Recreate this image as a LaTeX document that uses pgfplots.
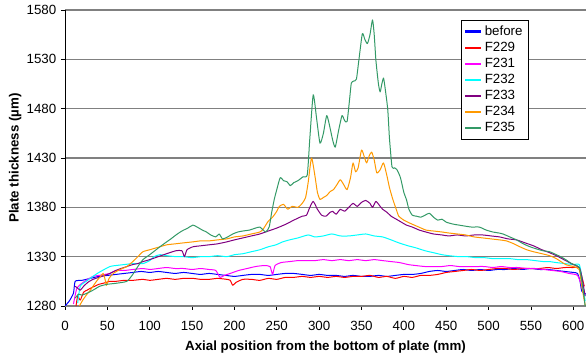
\documentclass[border=0pt]{standalone}
\usepackage{fontspec}
\setmainfont{Liberation Sans}
\usepackage{pgfplots}
\pgfplotsset{compat=1.18}
\definecolor{cBefore}{HTML}{0000FF}
\definecolor{cF229}{HTML}{FF0000}
\definecolor{cF231}{HTML}{FF00FF}
\definecolor{cF232}{HTML}{00FFFF}
\definecolor{cF233}{HTML}{800080}
\definecolor{cF234}{HTML}{FF9900}
\definecolor{cF235}{HTML}{339966}
\definecolor{gridgray}{HTML}{808080}
\begin{document}
\begin{tikzpicture}
\path[use as bounding box] (-48.75pt,-37.5pt) rectangle (390.75pt,229.5pt);
\begin{axis}[
  scale only axis, width=390.75pt, height=222pt,
  xmin=0, xmax=615, ymin=1280, ymax=1580,
  xtick={0,50,...,600}, ytick={1280,1330,...,1580},
  axis x line*=bottom, axis y line*=left,
  axis line style={-},
  x axis line style={gridgray, line width=1.1pt},
  y axis line style={black, line width=0.6pt},
  tick align=outside, major tick length=3pt,
  tick style={black, line width=0.6pt},
  ymajorgrids, grid style={gridgray, line width=1.1pt},
  /pgf/number format/assume math mode=true,
  /pgf/number format/1000 sep={},
  ticklabel style={font=\fontsize{10}{12}\selectfont},
  xticklabel style={yshift=-5pt},
  xlabel={Axial position from the bottom of plate (mm)},
  ylabel={Plate thickness (µm)},
  label style={font=\bfseries\fontsize{10}{12}\selectfont},
  xlabel style={yshift=-1pt},
  ylabel style={yshift=-3pt},
  legend style={at={(rel axis cs:0.889,0.966)}, anchor=north east,
    font=\fontsize{10}{12}\selectfont, row sep=-0.4pt, inner sep=2pt},
  legend cell align=left,
  legend image code/.code={\draw[line width=1.6pt] (0pt,0pt) -- (12pt,0pt);},
  every axis plot/.append style={line width=0.75pt, line join=round, smooth, tension=0.35},
  clip=true,
]
\addplot[color=cBefore] coordinates {(0,1280)(5,1285)(10,1293)(12,1305)(20,1306)(30,1308)(40,1310)(50,1311)(60,1312)(70,1313)(80,1314)(90,1315)(100,1314)(110,1315)(120,1314)(130,1313)(140,1314)(150,1313)(160,1312)(170,1313)(180,1312)(190,1311)(200,1310)(210,1311)(220,1312)(230,1312)(240,1311)(250,1312)(260,1313)(270,1313)(280,1312)(290,1311)(300,1312)(310,1311)(320,1311)(330,1310)(340,1311)(350,1310)(360,1310)(370,1311)(380,1310)(390,1311)(400,1312)(410,1312)(420,1313)(430,1315)(440,1316)(450,1315)(460,1316)(470,1317)(480,1316)(490,1317)(500,1316)(510,1317)(520,1317)(530,1318)(540,1317)(550,1318)(560,1317)(570,1317)(580,1316)(590,1315)(600,1314)(605,1313)(608,1305)(610,1295)(615,1292)};
\addlegendentry{before}
\addplot[color=cF229] coordinates {(13,1280)(15,1290)(18,1286)(22,1294)(26,1296)(30,1298)(35,1300)(40,1302)(45,1303)(53,1305)(60,1305)(70,1306)(80,1306)(92,1307)(100,1306)(110,1307)(120,1308)(130,1307)(140,1308)(151,1308)(160,1307)(170,1307)(180,1308)(191,1307)(195,1306)(198,1301)(202,1304)(210,1307)(220,1307)(230,1306)(240,1308)(250,1307)(260,1309)(270,1309)(280,1310)(290,1309)(300,1310)(310,1309)(320,1310)(330,1309)(340,1310)(350,1310)(360,1311)(370,1309)(380,1310)(390,1308)(400,1310)(410,1309)(420,1311)(430,1311)(440,1312)(450,1314)(460,1315)(470,1316)(480,1317)(490,1316)(500,1317)(510,1318)(520,1318)(530,1317)(540,1318)(550,1318)(560,1318)(570,1319)(580,1318)(590,1319)(600,1319)(607,1319)(610,1310)(613,1300)};
\addlegendentry{F229}
\addplot[color=cF231] coordinates {(10,1282)(14,1298)(20,1303)(25,1306)(33,1310)(40,1311)(53,1313)(60,1316)(70,1316)(80,1317)(92,1318)(100,1317)(110,1318)(120,1319)(130,1318)(140,1318)(150,1317)(160,1318)(170,1317)(178,1316)(183,1309)(188,1311)(195,1313)(205,1316)(215,1318)(225,1320)(235,1321)(242,1320)(245,1312)(248,1321)(255,1324)(265,1325)(275,1326)(285,1326)(295,1326)(305,1327)(315,1326)(325,1327)(335,1326)(345,1327)(355,1326)(365,1327)(375,1326)(385,1325)(395,1324)(405,1322)(414,1321)(425,1320)(435,1320)(445,1320)(455,1321)(465,1320)(475,1320)(485,1320)(495,1320)(505,1319)(515,1320)(525,1319)(535,1319)(545,1318)(555,1318)(565,1317)(575,1316)(585,1315)(595,1313)(605,1311)(610,1300)(613,1290)};
\addlegendentry{F231}
\addplot[color=cF232] coordinates {(15,1283)(18,1300)(25,1305)(33,1310)(40,1314)(53,1320)(60,1321)(70,1322)(80,1323)(92,1323)(100,1326)(105,1330)(112,1332)(120,1331)(131,1330)(140,1330)(150,1329)(160,1330)(170,1330)(180,1331)(191,1330)(200,1332)(210,1333)(220,1335)(230,1337)(240,1340)(249,1342)(257,1345)(265,1347)(275,1349)(287,1352)(295,1350)(305,1351)(315,1353)(325,1351)(335,1351)(345,1352)(355,1353)(365,1351)(375,1350)(385,1347)(394,1344)(405,1341)(414,1339)(425,1336)(435,1334)(445,1332)(453,1331)(465,1330)(475,1330)(485,1329)(495,1329)(505,1328)(513,1328)(525,1328)(535,1327)(545,1327)(555,1326)(565,1325)(572,1325)(580,1324)(590,1323)(600,1322)(607,1322)(610,1310)(614,1285)};
\addlegendentry{F232}
\addplot[color=cF233] coordinates {(12,1300)(15,1298)(18,1296)(22,1300)(27,1304)(33,1307)(40,1309)(47,1311)(53,1313)(60,1316)(66,1318)(73,1320)(80,1322)(86,1323)(92,1325)(100,1327)(110,1330)(120,1333)(131,1336)(138,1336)(141,1330)(144,1337)(151,1340)(160,1341)(170,1342)(180,1343)(191,1345)(200,1347)(210,1349)(220,1351)(230,1353)(240,1356)(250,1359)(261,1363)(270,1367)(280,1371)(285,1372)(289,1380)(293,1386)(298,1378)(303,1372)(308,1371)(313,1375)(316,1376)(320,1373)(325,1378)(330,1376)(335,1380)(340,1384)(345,1381)(350,1385)(355,1387)(360,1384)(363,1380)(367,1386)(372,1381)(375,1378)(380,1375)(385,1371)(391,1368)(397,1365)(403,1362)(410,1360)(418,1357)(426,1355)(435,1353)(445,1352)(453,1351)(463,1352)(473,1351)(483,1352)(493,1352)(503,1351)(513,1350)(523,1348)(533,1347)(543,1344)(553,1341)(563,1337)(572,1334)(580,1331)(591,1326)(600,1322)(607,1319)(610,1310)(614,1290)};
\addlegendentry{F233}
\addplot[color=cF234] coordinates {(17,1280)(21,1286)(26,1292)(30,1296)(33,1300)(38,1306)(42,1310)(45,1313)(47,1308)(49,1301)(52,1308)(57,1313)(65,1317)(73,1320)(80,1325)(86,1330)(92,1335)(100,1337)(112,1340)(120,1342)(130,1343)(140,1344)(151,1345)(160,1346)(170,1346)(180,1347)(191,1348)(200,1350)(210,1351)(220,1353)(230,1355)(234,1358)(240,1366)(245,1370)(250,1376)(253,1381)(258,1383)(263,1378)(268,1381)(275,1380)(280,1384)(284,1390)(287,1405)(291,1430)(295,1412)(298,1395)(301,1388)(305,1390)(309,1392)(313,1396)(317,1398)(321,1403)(325,1408)(329,1403)(333,1398)(337,1410)(340,1425)(343,1416)(346,1420)(350,1438)(353,1432)(356,1425)(359,1432)(362,1436)(365,1428)(368,1415)(372,1418)(376,1425)(380,1412)(383,1400)(387,1388)(391,1378)(394,1371)(400,1367)(407,1364)(415,1361)(426,1357)(435,1356)(445,1355)(453,1354)(463,1353)(473,1352)(483,1350)(493,1349)(503,1348)(513,1347)(521,1346)(530,1343)(537,1340)(545,1337)(553,1335)(563,1333)(572,1331)(580,1328)(591,1322)(600,1320)(607,1317)(610,1300)(614,1281)};
\addlegendentry{F234}
\addplot[color=cF235] coordinates {(12,1288)(16,1292)(20,1291)(26,1293)(33,1296)(41,1300)(50,1302)(60,1303)(73,1305)(80,1312)(86,1320)(92,1327)(100,1332)(106,1336)(112,1340)(120,1345)(125,1348)(131,1352)(138,1356)(145,1359)(151,1362)(156,1360)(162,1357)(167,1355)(172,1352)(178,1350)(182,1353)(186,1348)(192,1350)(198,1353)(204,1355)(210,1356)(218,1357)(225,1359)(230,1360)(234,1357)(237,1355)(241,1360)(244,1375)(247,1388)(250,1398)(254,1410)(258,1407)(262,1406)(266,1402)(270,1405)(275,1407)(281,1411)(286,1413)(289,1450)(293,1494)(297,1470)(301,1445)(305,1455)(309,1473)(313,1460)(316,1448)(319,1441)(323,1458)(327,1473)(330,1468)(333,1467)(336,1490)(338,1506)(341,1508)(344,1510)(347,1530)(351,1556)(354,1550)(357,1546)(360,1555)(363,1570)(365,1555)(367,1529)(370,1505)(372,1497)(374,1505)(376,1511)(378,1500)(381,1479)(383,1450)(386,1421)(389,1420)(392,1418)(396,1410)(400,1395)(403,1388)(406,1378)(410,1372)(415,1371)(420,1370)(425,1372)(430,1374)(435,1370)(440,1367)(445,1368)(450,1365)(458,1363)(465,1362)(472,1361)(480,1360)(489,1360)(497,1357)(505,1355)(512,1354)(517,1353)(525,1350)(533,1347)(541,1343)(549,1340)(556,1338)(564,1336)(572,1335)(580,1332)(585,1330)(591,1327)(598,1323)(607,1319)(611,1300)(614,1280)};
\addlegendentry{F235}
\end{axis}
\end{tikzpicture}
\end{document}
